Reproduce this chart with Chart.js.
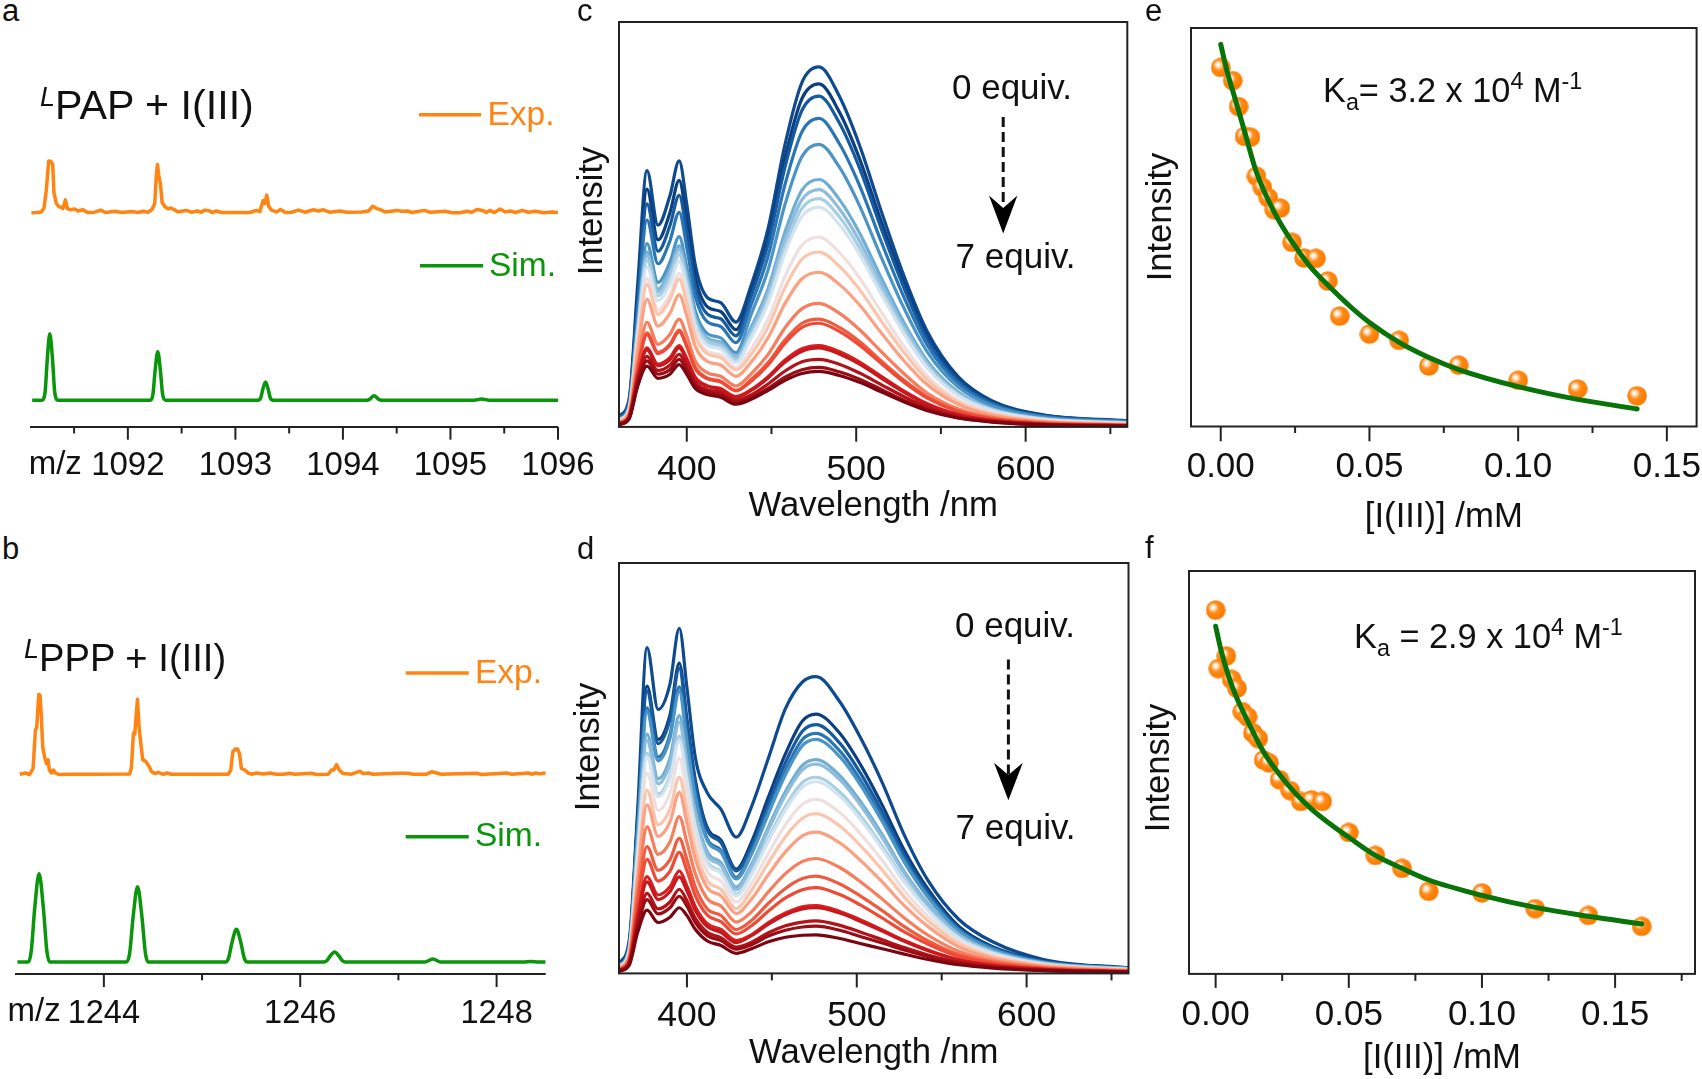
<!DOCTYPE html>
<html>
<head>
<meta charset="utf-8">
<script src="https://cdn.jsdelivr.net/npm/chart.js@4"></script>
<style>
  html, body { margin: 0; background: #fff; }
  body { position: relative; width: 1702px; height: 1079px; overflow: hidden; font-family: "Liberation Sans", Arial, sans-serif; color: #111; }
  canvas { position: absolute; }
  svg { position: absolute; left: 0; top: 0; }
  .t { position: absolute; line-height: 1; white-space: nowrap; }
  .t sub, .t sup { font-size: 0.68em; line-height: 0; }
</style>
</head>
<body>
<svg width="1702" height="1079">
  <line x1="419" y1="114.7" x2="481" y2="114.7" stroke="#ff8412" stroke-width="3.5"/>
  <line x1="420" y1="265.8" x2="483" y2="265.8" stroke="#0a960a" stroke-width="3.5"/>
  <line x1="405.7" y1="672.9" x2="468.8" y2="672.9" stroke="#ff8412" stroke-width="3.5"/>
  <line x1="405.7" y1="836.7" x2="468.8" y2="836.7" stroke="#0a960a" stroke-width="3.5"/>
  <line x1="1003.2" y1="117" x2="1003.2" y2="206" stroke="#111" stroke-width="3" stroke-dasharray="10 5"/>
  <path d="M989 195.6 L1003.2 208 L1017.4 195.6 L1003.2 233.5 Z" fill="#000"/>
  <line x1="1008.4" y1="659.6" x2="1008.4" y2="775" stroke="#111" stroke-width="3" stroke-dasharray="10 5"/>
  <path d="M994 762.8 L1008.4 775 L1022.8 762.8 L1008.4 800.3 Z" fill="#000"/>
</svg>
<script>
// panel a
var mzA = [1091.103,1091.149,1091.196,1091.220,1091.242,1091.264,1091.282,1091.301,1091.313,1091.335,1091.357,1091.382,1091.397,1091.419,1091.438,1091.469,1091.506,1091.537,1091.583,1091.624,1091.692,1091.748,1091.791,1091.884,1091.940,1092.039,1092.095,1092.141,1092.188,1092.225,1092.250,1092.265,1092.275,1092.287,1092.303,1092.318,1092.343,1092.374,1092.399,1092.430,1092.467,1092.498,1092.545,1092.591,1092.647,1092.684,1092.715,1092.762,1092.783,1092.824,1092.870,1093.056,1093.134,1093.196,1093.227,1093.258,1093.273,1093.292,1093.310,1093.335,1093.382,1093.419,1093.465,1093.521,1093.586,1093.648,1093.726,1093.772,1093.819,1093.875,1093.974,1094.036,1094.176,1094.238,1094.278,1094.315,1094.346,1094.393,1094.501,1094.548,1094.600,1094.641,1094.755,1094.811,1094.951,1095.013,1095.090,1095.152,1095.199,1095.245,1095.301,1095.332,1095.369,1095.407,1095.462,1095.509,1095.555,1095.602,1095.670,1095.726,1095.788,1095.865,1095.943,1096];
var expA = [71.4,71.5,71.7,73,79,88.7,88.6,87.5,78,74.5,73.5,73.2,72.8,75.7,72.8,72.4,72.7,72,72.4,71.5,71.6,72.3,71.5,71.9,71.5,71.8,71.5,71.9,71.6,72.5,74.5,84,87.5,84,81,75,73.5,72.7,73,72.5,71.7,71.9,72.2,71.6,72,71.6,72.3,72,71.5,72,71.5,71.5,71.5,72.2,71.8,75.5,74.5,77.3,73.5,72.3,71.7,72.5,71.5,71.6,72.3,71.6,72.4,72,72.4,71.6,72,71.6,71.7,72,73.6,72.8,72.5,71.7,72.2,71.9,72,71.5,72.2,71.6,71.9,71.4,71.4,71.9,71.6,72.5,72.2,71.5,72.2,71.5,72.7,71.7,72,71.5,72.2,71.6,71.9,71.4,71.7,71.5];
var simMzA = [1091.11,1091.20,1091.23,1091.25,1091.274,1091.30,1091.32,1091.35,1092.21,1092.233,1092.253,1092.278,1092.303,1092.323,1092.35,1093.21,1093.235,1093.255,1093.28,1093.305,1093.325,1093.35,1094.22,1094.25,1094.29,1094.33,1094.36,1095.22,1095.29,1095.36,1096.00];
var simA = [8.95,8.95,11.6,22.25,31.1,22.25,11.6,8.95,8.95,10.9,18.65,25.1,18.65,10.9,8.95,8.95,9.65,12.55,15,12.55,9.65,8.95,8.95,9.3,10.4,9.3,8.95,8.95,9.3,8.95,8.95];
var ticksA = [1091.5,1092,1092.5,1093,1093.5,1094,1094.5,1095,1095.5,1096];
var labelsA = [1092,1093,1094,1095,1096];

// panel b
var mzB = [1243.143,1243.201,1243.245,1243.279,1243.303,1243.316,1243.337,1243.350,1243.364,1243.377,1243.398,1243.418,1243.432,1243.445,1243.466,1243.486,1243.507,1243.541,1243.636,1243.873,1244.264,1244.281,1244.301,1244.315,1244.342,1244.359,1244.376,1244.396,1244.423,1244.444,1244.464,1244.485,1244.519,1244.553,1244.603,1244.644,1244.688,1245.266,1245.293,1245.313,1245.340,1245.361,1245.381,1245.401,1245.435,1245.470,1245.504,1245.561,1245.622,1245.690,1245.758,1245.826,1245.894,1245.945,1246.115,1246.166,1246.285,1246.319,1246.342,1246.370,1246.397,1246.437,1246.522,1246.607,1246.641,1246.692,1246.743,1246.981,1247.100,1247.151,1247.287,1247.338,1247.389,1247.440,1247.796,1247.847,1248.102,1248.153,1248.323,1248.356,1248.400,1248.441,1248.485,1248.5];
var expB = [66.6,67,66.5,68.5,81.4,82,93.2,93,85.3,75.8,72,70,71.4,68,67,68,67,66.5,66.6,66.6,66.7,69,80.3,80,91.6,82,77,71.4,71,70,69,67.5,66.8,67.2,66.6,67,66.6,66.6,68,74,75,75,73.5,68.5,68,67,66.6,67,66.7,67,66.6,66.6,66.9,66.6,66.9,66.5,66.6,68,68,69.8,68,66.8,66.6,67.6,66.8,67,66.6,66.9,66.9,66.6,66.6,67.4,67,66.6,66.9,66.5,67,66.6,67,66.6,67,66.7,67,66.6];
var simMzB = [1243.12,1243.23,1243.26,1243.295,1243.34,1243.385,1243.42,1243.45,1244.23,1244.263,1244.298,1244.343,1244.388,1244.423,1244.45,1245.24,1245.27,1245.305,1245.35,1245.395,1245.43,1245.46,1246.24,1246.27,1246.305,1246.35,1246.395,1246.43,1246.46,1247.27,1247.35,1247.43,1248.27,1248.35,1248.43,1248.50];
var simB = [4,4,7.5,21.6,33.4,21.6,7.5,4,4,7,19,29.1,19,7,4,4,5.3,10.5,14.9,10.5,5.3,4,4,4.4,6,7.35,6,4.4,4,4,5,4,4,4.2,4,4];
var ticksB = [1244,1245,1246,1247,1248];
var labelsB = [1244,1246,1248];

// panel c, one row per titration step
var wavelengthsC = [360,366,371,376.5,383,390,395.5,400,405,412,420,429,438,448,458,468,478,490,502,515,528,542,560,580,610,660];
var curvesC = [
  [2.6,7,35,63.3,49.8,57,65.7,55,40,32,30.7,25.9,35,49,69.8,85.1,88.9,81.7,69.5,53,37.5,23.5,12.5,6.5,3,1.5],
  [2.4,6.5,32.6,58.7,46.2,52.8,60.9,51,37.1,29.7,28.5,24,33.4,46.8,66.5,81.1,84.7,77.8,66.2,50.5,35.7,22.4,11.9,6.2,2.9,1.4],
  [2.2,6.2,30.8,55.1,43.4,49.6,57.2,47.9,34.8,27.9,26.7,22.5,32.3,45.2,64.2,78.2,81.7,75.1,63.9,48.7,34.5,21.6,11.5,6,2.8,1.4],
  [2.1,5.7,28.7,51.1,40.3,45.9,53,44.4,32.3,26,24.8,20.8,30.2,42.2,59.9,72.9,76.2,70,59.6,45.5,32.2,20.2,10.8,5.6,2.6,1.3],
  [1.8,5.1,25.7,45.3,35.7,40.6,47,39.4,28.7,23.1,22,18.3,27.8,38.8,55,66.8,69.8,64.2,54.6,41.7,29.5,18.5,9.9,5.2,2.4,1.2],
  [1.7,4.9,24.6,43.2,34,38.7,44.7,37.5,27.3,22,20.9,17.4,24.6,34.2,48.2,58.5,61.1,56.2,47.9,36.6,25.9,16.3,8.7,4.5,2.1,1],
  [1.7,4.8,24.1,42.3,33.4,37.9,43.8,36.7,26.7,21.6,20.5,17.1,23.6,32.9,46.3,56.1,58.6,53.9,45.9,35.1,24.9,15.6,8.3,4.4,2,1],
  [1.6,4.7,23.5,41.1,32.4,36.8,42.6,35.7,26,21,20,16.6,22.8,31.7,44.6,54,56.4,51.9,44.2,33.8,24,15.1,8,4.2,1.9,0.9],
  [1.6,4.5,22.7,39.5,31.2,35.3,40.9,34.3,25,20.2,19.2,15.9,22,30.6,43,52,54.3,50,42.6,32.6,23.1,14.5,7.8,4.1,1.9,0.9],
  [1.4,4.2,21.2,36.6,28.9,32.7,37.9,31.8,23.1,18.7,17.8,14.7,19.2,26.6,37.2,44.9,46.9,43.1,36.8,28.2,20,12.6,6.7,3.5,1.6,0.8],
  [1.4,4.1,20.5,35.2,27.8,31.4,36.5,30.6,22.3,18.1,17.1,14.1,17.9,24.7,34.4,41.4,43.2,39.7,33.9,26,18.5,11.6,6.2,3.3,1.5,0.7],
  [1.2,3.7,18.6,31.5,24.9,28,32.6,27.4,19.9,16.2,15.3,12.5,16,22,30.5,36.6,38.2,35.2,30.1,23.1,16.4,10.4,5.6,2.9,1.3,0.6],
  [1,3.1,15.6,25.8,20.4,22.8,26.6,22.4,16.3,13.4,12.5,10.1,13.1,17.9,24.5,29.2,30.5,28.1,24,18.5,13.2,8.3,4.5,2.4,1.1,0.5],
  [0.9,2.8,14.2,23.2,18.4,20.4,23.9,20.1,14.7,12.1,11.3,9,11.7,15.9,21.5,25.6,26.6,24.6,21.1,16.2,11.6,7.4,4,2.1,0.9,0.4],
  [0.8,2.8,14,22.8,18.1,20.1,23.5,19.8,14.4,11.9,11.1,8.9,11.3,15.3,20.7,24.6,25.6,23.6,20.2,15.6,11.1,7.1,3.8,2,0.9,0.4],
  [0.7,2.5,12.3,19.5,15.5,17.1,20.1,16.9,12.3,10.2,9.5,7.5,9.2,12.4,16.5,19.3,20.1,18.6,16,12.4,8.9,5.7,3.1,1.6,0.7,0.3],
  [0.7,2.4,12.1,19,15.1,16.6,19.5,16.4,12,10,9.2,7.3,9,12.1,16,18.7,19.5,18,15.5,12,8.6,5.5,3,1.6,0.7,0.3],
  [0.6,2.3,11.3,17.4,13.9,15.2,17.9,15.1,11,9.2,8.5,6.6,7.9,10.6,13.8,16.1,16.7,15.5,13.3,10.4,7.5,4.8,2.6,1.4,0.6,0.3],
  [0.6,2.1,10.7,16.3,13,14.1,16.7,14.1,10.3,8.6,7.9,6.1,7.2,9.5,12.3,14.1,14.7,13.6,11.8,9.2,6.6,4.3,2.3,1.3,0.5,0.2],
  [0.5,2,10,15,12,13,15.4,13,9.5,8,7.3,5.6,6.8,9,11.5,13.2,13.7,12.7,11,8.6,6.2,4,2.2,1.2,0.5,0.2]
];

// panel d
var wavelengthsD = [360,366,371,376.5,383,390,395.5,400,405,412,420,429,438,448,458,468,476,490,502,515,528,542,560,580,610,660];
var curvesD = [
  [2.5,8,40,79.4,64.3,70.5,84.1,69.6,52.5,44,40,33.2,40.6,52.5,64.5,71,72.3,66.2,57.6,46.5,33.7,22.6,13.2,7.7,3.4,1.3],
  [2,7,38,70,57,63,75.6,62,47,35.5,32.5,25.4,32,43,53.5,61.5,63.2,58.5,51,41,30,20.5,11.5,6.5,3,1.3],
  [2,6.9,37.4,68.8,56,61.9,74.3,61,46.2,34.9,31.9,25,30.8,41.3,51.4,59,60.6,56.1,48.9,39.3,28.8,19.7,11,6.3,2.9,1.3],
  [1.9,6.5,35.3,64.7,52.7,58.2,69.8,57.4,43.5,32.8,30,23.4,29.7,39.9,49.6,57,58.5,54.2,47.2,38,27.8,19,10.7,6,2.8,1.2],
  [1.8,6.4,34.8,63.7,51.8,57.3,68.7,56.4,42.8,32.3,29.5,23,29,38.9,48.4,55.5,57,52.8,46,37,27.1,18.5,10.4,5.9,2.7,1.2],
  [1.7,5.9,32,58.3,47.4,52.4,62.8,51.7,39.2,29.6,27,21,26.6,35.7,44.3,50.7,52.1,48.2,42,33.8,24.8,17,9.6,5.4,2.5,1.1],
  [1.6,5.8,31.2,56.8,46.2,51.1,61.2,50.4,38.2,28.8,26.3,20.4,26.1,35,43.4,49.6,51,47.2,41.1,33.1,24.3,16.6,9.4,5.3,2.5,1.1],
  [1.6,5.5,29.6,53.7,43.7,48.3,57.8,47.7,36.1,27.2,24.8,19.3,24.6,32.9,40.7,46.5,47.8,44.2,38.5,31,22.8,15.6,8.8,5,2.3,1],
  [1.5,5.4,29.2,52.8,43,47.5,56.8,46.9,35.6,26.8,24.4,18.9,24,32.2,39.8,45.4,46.7,43.2,37.6,30.3,22.2,15.3,8.6,4.9,2.3,1],
  [1.4,5.1,27.1,48.8,39.7,43.9,52.5,43.4,32.9,24.8,22.5,17.4,21.9,29.3,36.2,41.2,42.4,39.2,34.1,27.5,20.2,13.9,7.9,4.5,2.1,0.9],
  [1.3,4.7,25,44.6,36.2,40,47.8,39.7,30.1,22.6,20.5,15.8,20.2,27,33.3,37.8,38.9,35.9,31.2,25.2,18.6,12.8,7.3,4.1,2,0.8],
  [1.2,4.4,23.2,41.1,33.4,36.9,44.1,36.7,27.8,20.9,18.9,14.6,18.1,24.1,29.6,33.5,34.4,31.8,27.6,22.3,16.5,11.4,6.5,3.7,1.8,0.8],
  [1.1,3.9,20.4,35.7,29,32,38.2,31.9,24.2,18.2,16.4,12.5,15,19.9,24.3,27.3,28,25.8,22.4,18.1,13.5,9.3,5.4,3.1,1.5,0.6],
  [0.9,3.4,18,30.9,25.1,27.7,32.9,27.7,21,15.7,14.1,10.7,12.9,17.1,20.7,23.1,23.7,21.8,18.9,15.3,11.4,7.9,4.6,2.7,1.3,0.6],
  [0.8,3.1,16.4,27.8,22.5,24.9,29.5,25,18.9,14.2,12.6,9.6,11.6,15.2,18.4,20.4,20.9,19.2,16.7,13.5,10.1,7.1,4.1,2.4,1.2,0.5],
  [0.7,2.8,14.2,23.6,19.1,21.1,25,21.3,16.2,12.1,10.7,8,9.4,12.4,14.7,16.2,16.5,15.1,13.1,10.6,8,5.7,3.3,2,1,0.4],
  [0.7,2.6,13.5,22.3,18,19.9,23.5,20.1,15.3,11.4,10,7.5,9.2,12,14.3,15.7,16,14.7,12.7,10.3,7.8,5.5,3.3,1.9,1,0.4],
  [0.6,2.4,12.1,19.5,15.7,17.4,20.5,17.7,13.4,10,8.7,6.4,7.6,9.9,11.6,12.5,12.8,11.7,10.1,8.2,6.3,4.5,2.7,1.6,0.8,0.4],
  [0.6,2.2,11.3,18,14.5,16,18.8,16.4,12.4,9.2,8,5.9,7,9.1,10.5,11.3,11.5,10.5,9,7.4,5.7,4.1,2.5,1.5,0.8,0.3],
  [0.5,2,10,15.4,12.4,13.7,16,14.1,10.7,7.9,6.8,4.9,6,7.7,8.8,9.3,9.4,8.5,7.3,6,4.7,3.4,2.1,1.3,0.7,0.3]
];
var ticksNm = [400,450,500,550,600,650];
var labelsNm = [400,500,600];

// panel e
var concE = [0,0.004,0.006,0.008,0.01,0.012,0.014,0.016,0.018,0.02,0.024,0.028,0.032,0.036,0.04,0.05,0.06,0.07,0.08,0.1,0.12,0.14];
var intensityE = [90.1,86.8,80.3,72.8,72.6,62.8,60,57.4,54.4,54.8,46.2,42.3,42.2,36.5,27.7,23.2,21.6,15.2,15.4,11.6,9.4,7.7];
var fitConcE = [0,0.002,0.005,0.008,0.012,0.018,0.024,0.03,0.036,0.044,0.05,0.06,0.07,0.08,0.1,0.12,0.14];
var fitE = [95.9,89.5,81.8,74.1,63.8,53.8,46.3,40.2,35.5,29.8,26.1,21.1,17.3,14.3,10,6.8,4.4];
var ticksE = [0,0.025,0.05,0.075,0.1,0.125,0.15];
var labelsE = [0,0.05,0.1,0.15];

// panel f
var concF = [0,0.004,0.001,0.006,0.008,0.01,0.012,0.014,0.016,0.018,0.02,0.024,0.028,0.032,0.036,0.04,0.05,0.06,0.07,0.08,0.1,0.12,0.14,0.16];
var intensityF = [90.3,78.9,75.8,73.1,70.9,65.1,63.8,59.8,58.4,53.1,52.4,48.2,45.5,42.8,43.2,42.8,35.1,29.4,26.2,20.5,20.1,16.2,14.5,11.8];
var fitConcF = [0,0.002,0.005,0.008,0.012,0.018,0.024,0.03,0.036,0.044,0.05,0.06,0.07,0.08,0.1,0.12,0.14,0.16];
var fitF = [86.3,80.4,73.6,68.4,62.8,55.1,49.5,44.8,40.9,36.7,33.9,29.4,26.2,23.3,19.5,16.5,14.3,12.4];
var ticksF = [0,0.025,0.05,0.075,0.1,0.125,0.15,0.175];
var labelsF = [0,0.05,0.1,0.15];

var blueToRed = ['#0d4a8f','#0b3f80','#15599e','#2a75b3','#4a94c6','#6faed4','#8fbcdc','#a6cfe3','#d3e3f0','#ede0de','#fcc5ab','#fca082','#f87d5d','#f05a3e','#ee4a36','#d8201f','#c9181d','#b31218','#9a0d14','#7a0510'];
var ORANGE = '#ff8412', GREEN = '#0a960a', FIT = '#087408', INK = '#111', AXIS = '#222';
var FONT = '"Liberation Sans", Arial, sans-serif';

function pts(xs, ys) {
  return xs.map(function (x, i) { return { x: x, y: ys[i] }; });
}

// orange ball with a highlight, used as the point marker
function ball() {
  var c = document.createElement('canvas');
  c.width = 20; c.height = 20;
  var g = c.getContext('2d');
  var grad = g.createRadialGradient(7, 7, 0.5, 8.5, 8.5, 10);
  grad.addColorStop(0, '#ffffff');
  grad.addColorStop(0.18, '#ffe6cf');
  grad.addColorStop(0.5, '#ff8c1a');
  grad.addColorStop(1, '#fb7c00');
  g.fillStyle = grad;
  g.beginPath();
  g.arc(10, 10, 9.8, 0, Math.PI * 2);
  g.fill();
  return c;
}

// axis line, tick marks (two lengths) and optional closed frame
var framePlugin = {
  id: 'frame',
  afterDraw: function (chart, args, o) {
    var a = chart.chartArea, x = chart.scales.x, c = chart.ctx;
    c.save();
    c.strokeStyle = AXIS;
    c.lineWidth = 2;
    if (o.box) {
      c.strokeRect(a.left, a.top, a.right - a.left, a.bottom - a.top);
    } else {
      c.beginPath(); c.moveTo(a.left, a.bottom); c.lineTo(a.right, a.bottom); c.stroke();
    }
    x.ticks.forEach(function (t) {
      var px = x.getPixelForValue(t.value);
      var len = o.labels.indexOf(t.value) >= 0 ? o.majorLen : o.minorLen;
      c.beginPath(); c.moveTo(px, a.bottom); c.lineTo(px, a.bottom + len); c.stroke();
    });
    c.restore();
  }
};

function panel(p) {
  // wide margins so the tick labels never push the plot area inwards
  var pad = { left: 40, right: 70, top: 6 };
  var cv = document.createElement('canvas');
  var w = p.right - p.left + pad.left + pad.right;
  var h = p.bottom - p.top + pad.top + p.axisHeight;
  cv.width = Math.round(w); cv.height = Math.round(h);
  cv.style.left = (p.left - pad.left) + 'px';
  cv.style.top = (p.top - pad.top) + 'px';
  document.body.appendChild(cv);
  new Chart(cv, {
    type: 'line',
    data: { datasets: p.datasets },
    plugins: [framePlugin],
    options: {
      responsive: false,
      animation: false,
      devicePixelRatio: 1,
      layout: { padding: { left: pad.left, right: cv.width - pad.left - (p.right - p.left), top: pad.top, bottom: 0 } },
      plugins: {
        legend: { display: false },
        tooltip: { enabled: false },
        frame: { box: p.box, labels: p.labels, majorLen: p.majorLen, minorLen: p.minorLen }
      },
      scales: {
        x: {
          type: 'linear',
          min: p.xMin,
          max: p.xMax,
          grid: { display: false, drawTicks: false },
          border: { display: false },
          afterBuildTicks: function (s) { s.ticks = p.ticks.map(function (v) { return { value: v }; }); },
          afterFit: function (s) { s.height = p.axisHeight; },
          ticks: {
            autoSkip: false,
            maxRotation: 0,
            padding: p.tickPad,
            color: INK,
            font: { family: FONT, size: p.tickSize },
            callback: function (v) { return p.labels.indexOf(v) >= 0 ? p.format(v) : ''; }
          },
          title: {
            display: !!p.xTitle,
            text: p.xTitle,
            color: INK,
            padding: 0,
            font: { family: FONT, size: 34.7 }
          }
        },
        y: { display: false, min: 0, max: p.yMax }
      }
    }
  });
}

function spectrumSets(xs, rows) {
  return rows.map(function (r, i) {
    return {
      data: pts(xs, r), borderColor: blueToRed[i], borderWidth: 3.2, pointRadius: 0,
      cubicInterpolationMode: 'monotone', order: -i
    };
  });
}

function massSets(mzExp, exp, mzSim, sim) {
  return [
    { data: pts(mzExp, exp), borderColor: ORANGE, borderWidth: 3.5, pointRadius: 0, borderJoinStyle: 'round' },
    { data: pts(mzSim, sim), borderColor: GREEN, borderWidth: 3.5, pointRadius: 0, cubicInterpolationMode: 'monotone', borderJoinStyle: 'round' }
  ];
}

function fitSets(cx, cy, fx, fy) {
  return [
    { data: pts(fx, fy), borderColor: FIT, borderWidth: 5, pointRadius: 0, cubicInterpolationMode: 'monotone', borderCapStyle: 'round' },
    { data: pts(cx, cy), showLine: false, pointStyle: ball(), pointRadius: 10 }
  ];
}

var plain = function (v) { return String(v); };
var two = function (v) { return v.toFixed(2); };

panel({ left: 30, right: 558, top: 127.3, bottom: 427.3, yMax: 100, axisHeight: 70, xMin: 1091.09, xMax: 1096, ticks: ticksA, labels: labelsA, format: plain, tickPad: 18.9, tickSize: 33, majorLen: 12.7, minorLen: 6.5, box: false, datasets: massSets(mzA, expA, simMzA, simA) });
panel({ left: 15.3, right: 546, top: 674.3, bottom: 974.3, yMax: 100, axisHeight: 70, xMin: 1243.095, xMax: 1248.5, ticks: ticksB, labels: labelsB, format: plain, tickPad: 20.4, tickSize: 32.5, majorLen: 13, minorLen: 6.3, box: false, datasets: massSets(mzB, expB, simMzB, simB) });
panel({ left: 618.5, right: 1126.8, top: 22.4, bottom: 427.3, yMax: 100, axisHeight: 100.1, xMin: 360, xMax: 660, ticks: ticksNm, labels: labelsNm, format: plain, tickPad: 21.9, tickSize: 35.5, majorLen: 14.8, minorLen: 7.2, box: true, xTitle: 'Wavelength /nm', datasets: spectrumSets(wavelengthsC, curvesC) });
panel({ left: 618.5, right: 1128, top: 562.9, bottom: 972.9, yMax: 100, axisHeight: 100.6, xMin: 360, xMax: 660, ticks: ticksNm, labels: labelsNm, format: plain, tickPad: 21.3, tickSize: 35.5, majorLen: 14, minorLen: 7, box: true, xTitle: 'Wavelength /nm', datasets: spectrumSets(wavelengthsD, curvesD) });
panel({ left: 1190.6, right: 1696.2, top: 23, bottom: 426, yMax: 100, axisHeight: 111.5, xMin: -0.01, xMax: 0.16, ticks: ticksE, labels: labelsE, format: two, tickPad: 20, tickSize: 35, majorLen: 14.8, minorLen: 6.5, box: true, xTitle: '[I(III)] /mM', datasets: fitSets(concE, intensityE, fitConcE, fitE) });
panel({ left: 1189.1, right: 1695.1, top: 565.7, bottom: 973.6, yMax: 100, axisHeight: 105.1, xMin: -0.01, xMax: 0.18, ticks: ticksF, labels: labelsF, format: two, tickPad: 20.4, tickSize: 35, majorLen: 14, minorLen: 7, box: true, xTitle: '[I(III)] /mM', datasets: fitSets(concF, intensityF, fitConcF, fitF) });

// text placed by hand around the panels
var notes = [
  { html: 'a', x: 2, y: 9.5, size: 31 }, { html: 'b', x: 2, y: 548, size: 31 },
  { html: 'c', x: 577, y: 9.5, size: 31 }, { html: 'd', x: 577, y: 548, size: 31 },
  { html: 'e', x: 1145, y: 9.5, size: 31 }, { html: 'f', x: 1145, y: 547, size: 31 },
  { html: '<i style="font-size:27px;vertical-align:13px">L</i>PAP + I(III)', x: 40, y: 105, size: 41.2 },
  { html: '<i style="font-size:27px;vertical-align:13px">L</i>PPP + I(III)', x: 24, y: 657, size: 38.2 },
  { html: 'Exp.', x: 487.5, y: 113.6, size: 33.5, color: ORANGE },
  { html: 'Sim.', x: 489, y: 265, size: 33.5, color: GREEN },
  { html: 'Exp.', x: 475, y: 671.8, size: 33.5, color: ORANGE },
  { html: 'Sim.', x: 475, y: 835.3, size: 33.5, color: GREEN },
  { html: 'm/z', x: 28.7, y: 462, size: 33 },
  { html: 'm/z', x: 7.5, y: 1009, size: 33 },
  { html: '0 equiv.', x: 952, y: 85.8, size: 35 },
  { html: '7 equiv.', x: 955.6, y: 254.5, size: 35 },
  { html: '0 equiv.', x: 955, y: 624, size: 35 },
  { html: '7 equiv.', x: 955.6, y: 825.6, size: 35 },
  { html: 'K<sub>a</sub>= 3.2 x 10<sup>4</sup> M<sup>-1</sup>', x: 1323, y: 90, size: 34.3 },
  { html: 'K<sub>a</sub> = 2.9 x 10<sup>4</sup> M<sup>-1</sup>', x: 1354, y: 636, size: 34.3 },
  { html: 'Intensity', x: 590, y: 211, size: 34.5, rot: true },
  { html: 'Intensity', x: 586.6, y: 747, size: 34.5, rot: true },
  { html: 'Intensity', x: 1159, y: 217, size: 34.5, rot: true },
  { html: 'Intensity', x: 1157, y: 768, size: 34.5, rot: true }
];
notes.forEach(function (n) {
  var d = document.createElement('div');
  d.className = 't';
  d.innerHTML = n.html;
  d.style.left = n.x + 'px';
  d.style.top = n.y + 'px';
  d.style.fontSize = n.size + 'px';
  if (n.color) d.style.color = n.color;
  d.style.transform = n.rot ? 'translate(-50%,-50%) rotate(-90deg)' : 'translateY(-50%)';
  document.body.appendChild(d);
});
</script>
</body>
</html>
